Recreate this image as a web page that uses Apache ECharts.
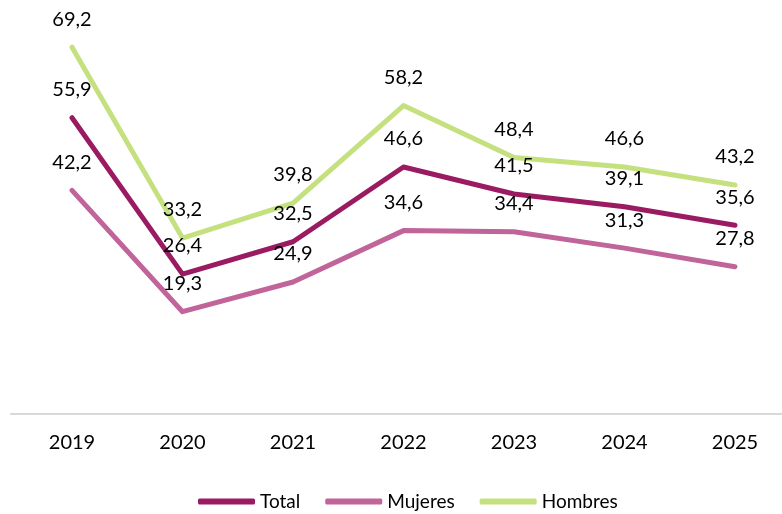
<!DOCTYPE html>
<html>
<head>
    <meta charset="utf-8" />
    <title>Tasa por sexo</title>
    <style>
        html, body { margin: 0; padding: 0; background: #fff; }
        #main { width: 782px; height: 514px; }
    </style>
</head>
<body>
    <div id="main"></div>
    <script src="https://cdn.jsdelivr.net/npm/echarts@6/dist/echarts.min.js"></script>
    <script type="text/javascript">
        var years = ['2019', '2020', '2021', '2022', '2023', '2024', '2025'];
        var total = [55.9, 26.4, 32.5, 46.6, 41.5, 39.1, 35.6];
        var mujeres = [42.2, 19.3, 24.9, 34.6, 34.4, 31.3, 27.8];
        var hombres = [69.2, 33.2, 39.8, 58.2, 48.4, 46.6, 43.2];

        var myChart = echarts.init(document.getElementById('main'));

        function makeSeries(name, data, color) {
            return {
                name: name,
                type: 'line',
                data: data,
                symbol: 'circle',
                symbolSize: 0.1,
                itemStyle: { color: color },
                lineStyle: { color: color, width: 5, cap: 'round', join: 'round' },
                label: {
                    show: true,
                    position: 'top',
                    distance: 18,
                    color: '#000',
                    fontFamily: 'Lato',
                    fontSize: 20,
                    formatter: function (p) {
                        return p.value.toFixed(1).replace('.', ',');
                    }
                },
                emphasis: { disabled: true }
            };
        }

        var option = {
            animation: false,
            textStyle: { fontFamily: 'Lato' },
            legend: {
                left: 193,
                top: 487,
                icon: 'roundRect',
                itemWidth: 57,
                itemHeight: 6,
                itemGap: 25,
                textStyle: { color: '#000', fontSize: 19, fontFamily: 'Lato' },
                data: ['Total', 'Mujeres', 'Hombres']
            },
            grid: [
                { left: 72, right: 47, top: 43, bottom: 100 },
                // only carries the full-width baseline
                { left: 11, right: 0, top: 43, bottom: 100 }
            ],
            xAxis: [
                {
                    type: 'category',
                    data: years,
                    boundaryGap: false,
                    axisLine: { show: false },
                    axisTick: { show: false },
                    axisLabel: { color: '#000', fontSize: 20, fontFamily: 'Lato', margin: 19 }
                },
                {
                    type: 'category',
                    gridIndex: 1,
                    data: years,
                    axisLine: { lineStyle: { color: '#d9d9d9', width: 2 } },
                    axisTick: { show: false },
                    axisLabel: { show: false }
                }
            ],
            yAxis: [
                { type: 'value', min: 0, max: 70, show: false },
                { type: 'value', gridIndex: 1, min: 0, max: 70, show: false }
            ],
            series: [
                makeSeries('Total', total, '#9b1b62'),
                makeSeries('Mujeres', mujeres, '#c0649a'),
                makeSeries('Hombres', hombres, '#c5e17f')
            ]
        };

        myChart.setOption(option);
    </script>
</body>
</html>
